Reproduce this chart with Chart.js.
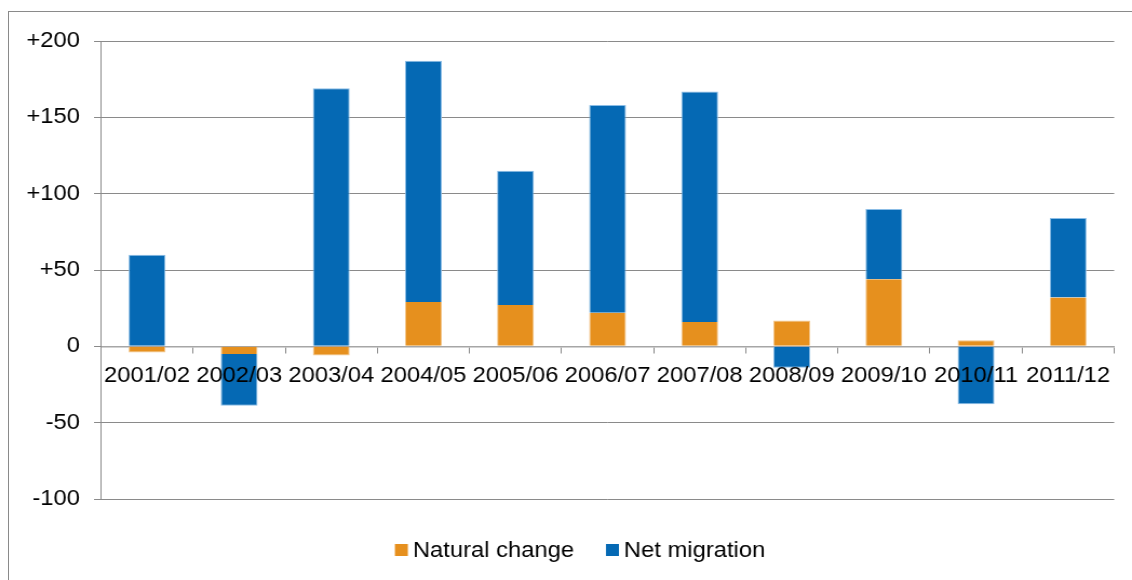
<!DOCTYPE html>
<html>
<head>
<meta charset="utf-8">
<script src="https://cdn.jsdelivr.net/npm/chart.js@4/dist/chart.umd.min.js"></script>
<style>
  html, body { margin: 0; padding: 0; background: #fff; overflow: hidden; }
  #wrap { position: relative; width: 1132px; height: 580px; overflow: hidden; }
  #frame {
    position: absolute; left: 8px; top: 11px; width: 1200px; height: 700px;
    border-left: 1px solid #8a8a8a; border-top: 1px solid #8a8a8a;
  }
  #c { position: absolute; left: 0; top: 0; }
</style>
</head>
<body>
<div id="wrap">
  <div id="frame"></div>
  <!-- drawn at 1048 wide and widened to the page width -->
  <canvas id="c" width="1048" height="580" style="width:1132px;height:580px"></canvas>
</div>
<script>
// Population change by year (thousands)
const years = ['2001/02', '2002/03', '2003/04', '2004/05', '2005/06', '2006/07',
               '2007/08', '2008/09', '2009/10', '2010/11', '2011/12'];
const naturalChange = [-4, -5, -6, 29, 27, 22, 16, 17, 44, 4, 32];
const netMigration  = [60, -34, 169, 158, 88, 136, 151, -14, 46, -38, 52];
const yTickValues = [-100, -50, 0, 50, 100, 150, 200];
const yTickLabels = ['-100', '-50', '0', '+50', '+100', '+150', '+200'];

const FONT_FAMILY = "'Liberation Sans', Arial, sans-serif";
const FONT = { family: FONT_FAMILY, size: 22 };

// Thin light outline on the outer edges of each stack only
function naturalBorder(ctx) {
  const n = naturalChange[ctx.dataIndex], m = netMigration[ctx.dataIndex];
  const capped = (n >= 0) === (m >= 0);   // migration stacked on the same side
  return n >= 0
    ? { left: 1, right: 1, top: capped ? 0 : 1, bottom: 0 }
    : { left: 1, right: 1, top: 0, bottom: capped ? 0 : 1 };
}
function migrationBorder(ctx) {
  const m = netMigration[ctx.dataIndex];
  return m >= 0
    ? { left: 1, right: 1, top: 1, bottom: 0 }
    : { left: 1, right: 1, top: 0, bottom: 1 };
}

// Legend row under the plot: small square swatch, tight gap, then the name
const bottomLegend = {
  id: 'bottomLegend',
  afterDraw(chart) {
    const ctx = chart.ctx;
    const box = 12, gap = 4.6, spacing = 29.6, cy = 550, centerX = 537;
    ctx.save();
    ctx.font = `${FONT.size}px ${FONT_FAMILY}`;
    ctx.textBaseline = 'middle';
    ctx.textAlign = 'left';
    const items = chart.data.datasets.map(ds => ({
      text: ds.label, color: ds.backgroundColor, w: ctx.measureText(ds.label).width
    }));
    const total = items.reduce((s, it) => s + box + gap + it.w, 0) + spacing * (items.length - 1);
    let x = centerX - total / 2;
    items.forEach(it => {
      ctx.fillStyle = it.color;
      ctx.fillRect(x, cy - 6, box, 12);
      ctx.fillStyle = '#000';
      ctx.fillText(it.text, x + box + gap, cy + 1);
      x += box + gap + it.w + spacing;
    });
    ctx.restore();
  }
};

new Chart(document.getElementById('c'), {
  type: 'bar',
  data: {
    labels: years,
    datasets: [
      {
        label: 'Natural change',
        data: naturalChange,
        backgroundColor: '#e6901e',
        borderColor: '#f2c58a',
        borderWidth: naturalBorder,
        borderSkipped: false,
        barPercentage: 0.4,
        categoryPercentage: 1.0
      },
      {
        label: 'Net migration',
        data: netMigration,
        backgroundColor: '#0569b4',
        borderColor: '#8bbde6',
        borderWidth: migrationBorder,
        borderSkipped: false,
        barPercentage: 0.4,
        categoryPercentage: 1.0
      }
    ]
  },
  options: {
    responsive: false,
    animation: false,
    devicePixelRatio: 1,
    layout: { padding: { left: 0, right: 16.5, top: 41, bottom: 81 } },
    scales: {
      x: {
        stacked: true,
        position: { y: 0 },
        offset: true,
        border: { display: true, color: '#a6a6a6', width: 1.5 },
        grid: {
          offset: true,
          drawOnChartArea: false,
          drawTicks: true,
          tickLength: 6,
          color: '#8a8a8a'
        },
        ticks: {
          z: 1,
          color: '#000',
          font: FONT,
          padding: 10,
          autoSkip: false,
          maxRotation: 0,
          minRotation: 0
        }
      },
      y: {
        stacked: true,
        min: -100,
        max: 200,
        afterBuildTicks: (scale) => {
          scale.ticks = yTickValues.map(v => ({ value: v }));
        },
        afterFit: (scale) => { scale.width = 93.5; },
        border: { display: true, color: '#8a8a8a', width: 1 },
        grid: {
          color: '#8a8a8a',
          lineWidth: 1,
          drawTicks: true,
          tickLength: 6.5
        },
        ticks: {
          color: '#000',
          font: FONT,
          padding: 13,
          callback: (v) => yTickLabels[yTickValues.indexOf(v)]
        }
      }
    },
    plugins: {
      legend: { display: false },
      tooltip: { enabled: false }
    }
  },
  plugins: [bottomLegend]
});
</script>
</body>
</html>
